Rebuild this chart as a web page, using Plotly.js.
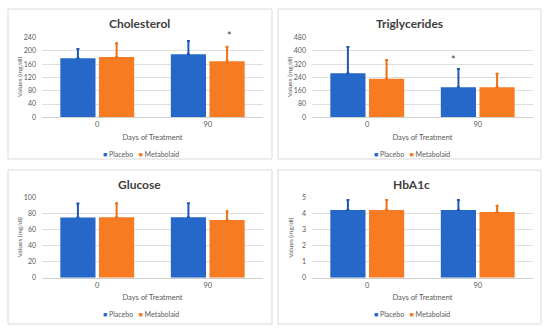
<!DOCTYPE html>
<html>
<head>
<meta charset="utf-8">
<script src="https://cdn.plot.ly/plotly-3.0.1.min.js"></script>
<style>html,body{margin:0;padding:0;background:#fff;}#chart{width:550px;height:334px;}</style>
</head>
<body>
<div id="chart"></div>
<script>
// ---- data ----
const categories = ['0', '90'];
const seriesNames = ['Placebo', 'Metabolaid'];
const panelTitles = ['Cholesterol', 'Triglycerides', 'Glucose', 'HbA1c'];
const yAxisTitle = 'Values (mg/dl)';
const xAxisTitle = 'Days of Treatment';

const cholPlacebo = [178, 190];
const cholPlaceboErr = [206, 230];
const cholMetabolaid = [182, 169];
const cholMetabolaidErr = [223, 213];

const trigPlacebo = [265, 181];
const trigPlaceboErr = [424, 291];
const trigMetabolaid = [233, 181];
const trigMetabolaidErr = [346, 263];

const gluPlacebo = [75.5, 76];
const gluPlaceboErr = [93, 93.5];
const gluMetabolaid = [76, 72.5];
const gluMetabolaidErr = [93.5, 83.5];

const hbaPlacebo = [4.25, 4.25];
const hbaPlaceboErr = [4.87, 4.87];
const hbaMetabolaid = [4.25, 4.12];
const hbaMetabolaidErr = [4.87, 4.52];

const yRanges = [[0, 240], [0, 480], [0, 100], [0, 5]];
const yDticks = [40, 80, 20, 1];

// ---- styling ----
const W = 550, H = 334;
const blue = '#2568c9', orange = '#f77b23';
const blueErr = '#1d57b0', orangeErr = '#ee6f14';
const txt = '#595959';
const fontFam = 'Lato, Open Sans, sans-serif';

const panels = [
  {p: cholPlacebo, pe: cholPlaceboErr, m: cholMetabolaid, me: cholMetabolaidErr},
  {p: trigPlacebo, pe: trigPlaceboErr, m: trigMetabolaid, me: trigMetabolaidErr},
  {p: gluPlacebo, pe: gluPlaceboErr, m: gluMetabolaid, me: gluMetabolaidErr},
  {p: hbaPlacebo, pe: hbaPlaceboErr, m: hbaMetabolaid, me: hbaMetabolaidErr}
];

// pixel geometry of each panel (plot area and frame)
const geo = [
  {x0: 42, x1: 263, y0: 37.7, y1: 117.3, fx0: 8, fx1: 272, fy0: 9, fy1: 159, tx: 140, ty: 23, lx: 141, ly: 154, ax: 19.5},
  {x0: 312, x1: 533, y0: 37.7, y1: 117.3, fx0: 278, fx1: 541, fy0: 9, fy1: 159, tx: 409, ty: 23, lx: 412, ly: 154, ax: 289.5},
  {x0: 42, x1: 263, y0: 198, y1: 277.7, fx0: 8, fx1: 272, fy0: 170, fy1: 324, tx: 140, ty: 184, lx: 141, ly: 314, ax: 19.5},
  {x0: 312, x1: 533, y0: 198, y1: 277.7, fx0: 278, fx1: 541, fy0: 170, fy1: 324, tx: 411, ty: 184, lx: 412, ly: 314, ax: 291}
];

const traces = [];
const layout = {
  width: W, height: H,
  margin: {l: 0, r: 0, t: 0, b: 0},
  paper_bgcolor: '#fff', plot_bgcolor: '#fff',
  barmode: 'group', bargap: 0.30, bargroupgap: 0.09,
  showlegend: false,
  font: {family: fontFam, color: txt},
  annotations: [], shapes: []
};

function diff(a, b) { return a.map((v, i) => v - b[i]); }

panels.forEach((d, i) => {
  const n = i === 0 ? '' : String(i + 1);
  const g = geo[i];
  const xa = 'x' + n, ya = 'y' + n;
  traces.push({
    type: 'bar', x: categories, y: d.p, name: seriesNames[0], xaxis: xa, yaxis: ya,
    marker: {color: blue},
    error_y: {type: 'data', symmetric: false, array: diff(d.pe, d.p), arrayminus: d.p.map(() => 0),
              color: blueErr, thickness: 2, width: 1.5}
  });
  traces.push({
    type: 'bar', x: categories, y: d.m, name: seriesNames[1], xaxis: xa, yaxis: ya,
    marker: {color: orange},
    error_y: {type: 'data', symmetric: false, array: diff(d.me, d.m), arrayminus: d.m.map(() => 0),
              color: orangeErr, thickness: 2, width: 1.5}
  });
  layout['xaxis' + n] = {
    domain: [g.x0 / W, g.x1 / W], anchor: ya,
    showgrid: false, showline: true, linecolor: '#d0d0d0', linewidth: 1,
    ticks: '', tickfont: {size: 7.5, color: txt, family: fontFam},
    title: {text: xAxisTitle, font: {size: 7.5, color: txt, family: fontFam}, standoff: 6},
    fixedrange: true
  };
  layout['yaxis' + n] = {
    domain: [1 - g.y1 / H, 1 - g.y0 / H], anchor: xa,
    range: yRanges[i], dtick: yDticks[i], tick0: 0,
    showgrid: true, gridcolor: '#dedede', gridwidth: 1, zeroline: false,
    showline: false, ticks: '', ticklabelstandoff: 5,
    tickfont: {size: 7, color: txt, family: fontFam},
    fixedrange: true
  };
  // y-axis title (placed precisely)
  layout.annotations.push({xref: 'paper', yref: 'paper', x: g.ax / W, y: 1 - ((g.y0 + g.y1) / 2) / H,
    xanchor: 'center', yanchor: 'middle', showarrow: false, textangle: -90, text: yAxisTitle,
    font: {size: 6.5, color: txt, family: fontFam}});
  // panel frame
  layout.shapes.push({type: 'rect', xref: 'paper', yref: 'paper',
    x0: g.fx0 / W, x1: g.fx1 / W, y0: 1 - g.fy1 / H, y1: 1 - g.fy0 / H,
    line: {color: '#d9d9d9', width: 1}, fillcolor: 'rgba(0,0,0,0)', layer: 'below'});
  // panel title
  layout.annotations.push({xref: 'paper', yref: 'paper', x: g.tx / W, y: 1 - g.ty / H,
    xanchor: 'center', yanchor: 'middle', showarrow: false, text: panelTitles[i],
    font: {size: 12, color: '#404040', family: fontFam, weight: 700}});
  // legend
  layout.annotations.push({xref: 'paper', yref: 'paper', x: g.lx / W, y: 1 - g.ly / H,
    xanchor: 'center', yanchor: 'middle', showarrow: false,
    text: '<span style="color:' + blue + '">■</span> ' + seriesNames[0] +
          '   <span style="color:' + orange + '">■</span> ' + seriesNames[1],
    font: {size: 7, color: txt, family: fontFam}});
});

// significance markers
layout.annotations.push({xref: 'paper', yref: 'paper', x: 229.5 / W, y: 1 - 35 / H,
  xanchor: 'center', yanchor: 'middle', showarrow: false, text: '*',
  font: {size: 11, color: '#404040', family: fontFam}});
layout.annotations.push({xref: 'paper', yref: 'paper', x: 453.5 / W, y: 1 - 60 / H,
  xanchor: 'center', yanchor: 'middle', showarrow: false, text: '*',
  font: {size: 11, color: '#404040', family: fontFam}});

Plotly.newPlot('chart', traces, layout, {displayModeBar: false, staticPlot: true});
</script>
</body>
</html>
